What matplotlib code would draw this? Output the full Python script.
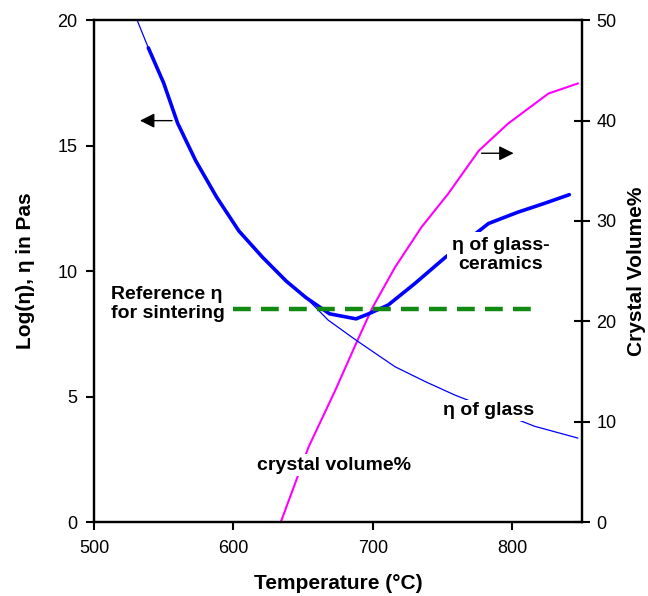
import matplotlib
matplotlib.use("Agg")
import matplotlib.pyplot as plt

plt.rcParams["font.family"] = ["Liberation Sans", "DejaVu Sans"]

# viscosity of the glass (thin line), log(eta) in Pas
glass_T = [531, 539, 550, 560, 573, 588, 604, 621, 638, 652, 668, 688, 716, 738, 759, 816, 847]
glass_eta = [20.0, 18.9, 17.5, 15.9, 14.4, 12.95, 11.6, 10.55, 9.6, 8.95, 8.05, 7.25, 6.19, 5.59, 5.06, 3.82, 3.35]

# viscosity of the glass-ceramics (thick line)
gc_T = [539, 550, 560, 573, 588, 604, 621, 638, 652, 669, 688, 697, 711, 730, 752, 783, 804, 823, 841]
gc_eta = [18.9, 17.5, 15.9, 14.4, 12.95, 11.6, 10.55, 9.6, 8.95, 8.3, 8.1, 8.3, 8.65, 9.5, 10.55, 11.9, 12.35, 12.7, 13.05]

# crystal volume % (right axis)
cv_T = [634, 654, 673, 689, 699.5, 716, 735, 754, 776, 797, 826, 847]
cv_pct = [0, 7.5, 13.1, 18.1, 21.3, 25.4, 29.4, 32.7, 37.0, 39.7, 42.7, 43.7]

# reference viscosity for sintering
ref_T = [600, 820]
ref_eta = [8.5, 8.5]

x_ticks = [500, 600, 700, 800]
left_ticks = [0, 5, 10, 15, 20]
right_ticks = [0, 10, 20, 30, 40, 50]

fig = plt.figure(figsize=(6.48, 5.96), dpi=100)
ax = fig.add_axes([0.145, 0.124, 0.753, 0.842])
tax = ax.twinx()
ax.set_zorder(tax.get_zorder() + 1)
ax.patch.set_visible(False)

ax.set_xlim(500, 850)
ax.set_ylim(0, 20)
tax.set_ylim(0, 50)

ax.plot(glass_T, glass_eta, color="#0000ff", lw=0.9, zorder=2)
ax.plot(gc_T, gc_eta, color="#0000ff", lw=2.6, zorder=3, solid_capstyle="round", solid_joinstyle="round")
ax.plot(ref_T, ref_eta, color="#108a10", lw=3.2, ls=(0, (4.0, 2.3)), zorder=4)
tax.plot(cv_T, cv_pct, color="#ff00ff", lw=1.5, solid_joinstyle="round")

# arrows pointing to the axes
akw = dict(arrowprops=dict(arrowstyle="-|>", color="black", lw=1.0, mutation_scale=22), zorder=5)
ax.annotate("", xy=(531, 16.0), xytext=(558, 16.0), **akw)
ax.annotate("", xy=(803, 14.7), xytext=(776, 14.7), **akw)

# labels in the plot
tkw = dict(fontsize=14, fontweight="bold", zorder=6)
box = dict(facecolor="white", edgecolor="none", pad=1.5)
ax.text(512.5, 8.69, "Reference η\nfor sintering", ha="left", va="center", linespacing=1.1, **tkw)
ax.text(792, 10.64, "η of glass-\nceramics", ha="center", va="center", linespacing=1.1,
        bbox=dict(facecolor="white", edgecolor="none", pad=4), **tkw)
ax.text(783, 4.46, "η of glass", ha="center", va="center", bbox=box, **tkw)
ax.text(672, 2.27, "crystal volume%", ha="center", va="center", bbox=box, **tkw)

# ticks
ax.set_xticks(x_ticks)
ax.set_yticks(left_ticks)
tax.set_yticks(right_ticks)
ax.tick_params(axis="both", direction="out", length=6, width=1.5, labelsize=13, pad=6)
tax.tick_params(axis="y", direction="inout", length=11, width=1.5, labelsize=13, pad=5)
ax.tick_params(axis="x", pad=7)

for a in (ax, tax):
    for s in a.spines.values():
        s.set_linewidth(1.6)

ax.set_xlabel("Temperature (°C)", fontsize=15, fontweight="bold")
ax.set_ylabel("Log(η), η in Pas", fontsize=15, fontweight="bold")
tax.set_ylabel("Crystal Volume%", fontsize=15, fontweight="bold")
ax.xaxis.set_label_coords(0.5, -0.103)
ax.yaxis.set_label_coords(-0.121, 0.5)
tax.yaxis.set_label_coords(1.092, 0.5)

fig.savefig("out.png", dpi=100)
